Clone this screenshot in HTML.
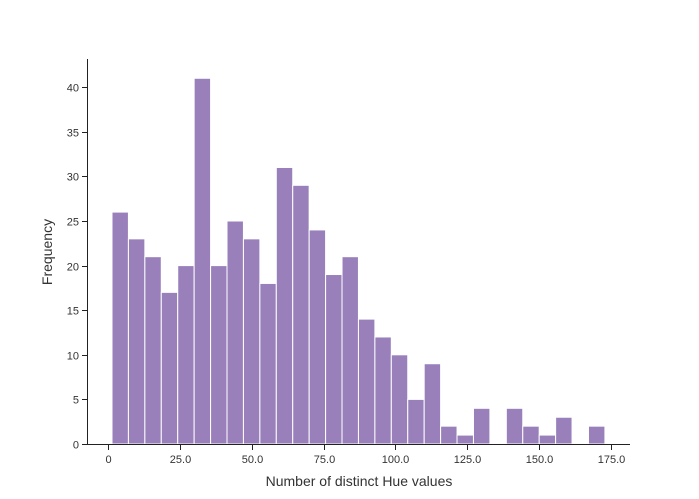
<!DOCTYPE html>
<html><head><meta charset="utf-8">
<style>
html,body{margin:0;padding:0;background:#fff;}
svg{display:block;font-family:"Liberation Sans","DejaVu Sans",sans-serif;}
</style></head>
<body>
<svg id="chart" width="699" height="499"></svg>
<script>
const counts = [26,23,21,17,20,41,20,25,23,18,31,29,24,19,21,14,12,10,5,9,2,1,4,0,4,2,1,3,0,2];
const binStart = 1.39;
const binWidth = 5.717;
const xTicks = [0,25,50,75,100,125,150,175];
const xTickLabels = ["0","25.0","50.0","75.0","100.0","125.0","150.0","175.0"];
const yTicks = [0,5,10,15,20,25,30,35,40];

const NS="http://www.w3.org/2000/svg";
const svg=document.getElementById('chart');
const x0=108, pxPerX=2.874, y0=444, pxPerY=8.92;
function sx(v){return x0+v*pxPerX;}
function sy(v){return y0-v*pxPerY;}
function mk(tag,attrs){const e=document.createElementNS(NS,tag);for(const k in attrs)e.setAttribute(k,attrs[k]);svg.appendChild(e);return e;}

counts.forEach((c,i)=>{
  if(c<=0) return;
  const l=sx(binStart+i*binWidth), r=sx(binStart+(i+1)*binWidth);
  const b=mk('rect',{x:l,y:sy(c),width:r-l,height:sy(0)-sy(c),fill:'#9980bb',stroke:'#fff','stroke-width':1});
  
  
});

const ya=mk('line',{x1:87.5,y1:59,x2:87.5,y2:444.5,stroke:'#222','stroke-width':1});


const xa=mk('line',{x1:87,y1:444.5,x2:630,y2:444.5,stroke:'#222','stroke-width':1});



yTicks.forEach(v=>{
  const y=Math.round(sy(v))+0.5;
  const t=mk('line',{x1:82,y1:y,x2:87,y2:y,stroke:'#222','stroke-width':1});
  
  
  const tx=mk('text',{x:79,y:y+4,'text-anchor':'end','font-size':11,fill:'#333'});
  tx.textContent=String(v);
  
  
});
xTicks.forEach((v,i)=>{
  const x=Math.round(sx(v))+0.5;
  const t=mk('line',{x1:x,y1:444,x2:x,y2:450,stroke:'#222','stroke-width':1});
  
  
  const tx=mk('text',{x:x,y:463,'text-anchor':'middle','font-size':11,fill:'#333'});
  tx.textContent=xTickLabels[i];
  
  
});
const xt=mk('text',{x:359,y:486,'text-anchor':'middle','font-size':14,fill:'#333'});
xt.textContent='Number of distinct Hue values';


const yt=mk('text',{x:0,y:0,'text-anchor':'middle','font-size':14,fill:'#333',transform:'translate(52,252) rotate(-90)'});
yt.textContent='Frequency';


</script>
</body></html>
